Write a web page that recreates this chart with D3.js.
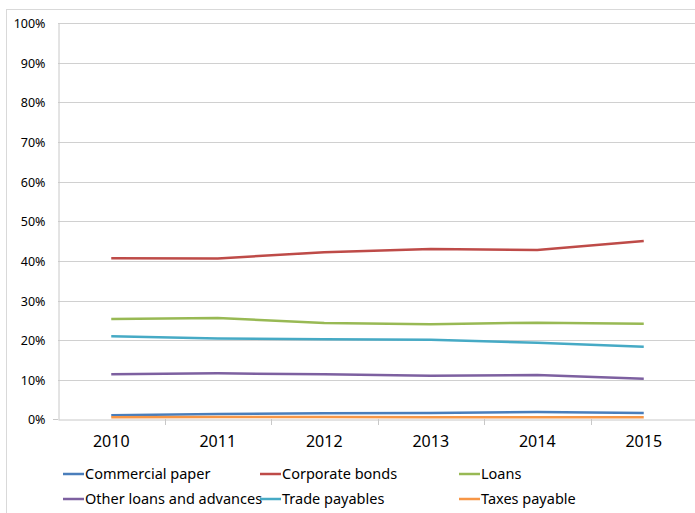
<!DOCTYPE html>
<html>
<head>
<meta charset="utf-8">
<script src="https://cdn.jsdelivr.net/npm/d3@7"></script>
<style>
  body { margin: 0; background: #fff; }
  text { font-family: "Noto Sans", "Open Sans", sans-serif; fill: #000; }
</style>
</head>
<body>
<div id="chart"></div>
<script>
// data
var years = ["2010", "2011", "2012", "2013", "2014", "2015"];
var yTicks = [0, 0.1, 0.2, 0.3, 0.4, 0.5, 0.6, 0.7, 0.8, 0.9, 1.0];

var seriesNames = ["Commercial paper", "Corporate bonds", "Loans",
                   "Other loans and advances", "Trade payables", "Taxes payable"];
var seriesColors = ["#4a7ebb", "#be4b48", "#98b954", "#7d60a0", "#46aac5", "#f79646"];

var commercialPaper = [0.010, 0.0135, 0.015, 0.016, 0.0185, 0.016];
var corporateBonds = [0.407, 0.406, 0.422, 0.430, 0.4275, 0.450];
var loans = [0.2535, 0.256, 0.243, 0.240, 0.244, 0.241];
var otherLoans = [0.114, 0.116, 0.114, 0.110, 0.112, 0.1025];
var tradePayables = [0.210, 0.204, 0.202, 0.201, 0.193, 0.183];
var taxesPayable = [0.005, 0.006, 0.006, 0.005, 0.005, 0.005];

var seriesValues = [commercialPaper, corporateBonds, loans, otherLoans, tradePayables, taxesPayable];

var width = 695, height = 513;

var svg = d3.select("#chart")
    .append("svg")
    .attr("width", width)
    .attr("height", height);

// outer chart frame
svg.append("rect")
    .attr("x", 6.5)
    .attr("y", 9.5)
    .attr("width", 700)
    .attr("height", 520)
    .style("fill", "none")
    .style("stroke", "#d9d9d9");

var x = d3.scaleBand()
    .domain(years)
    .range([58, 697]);

var y = d3.scaleLinear()
    .domain([0, 1])
    .range([419.3, 23.3]);

// gridlines
svg.append("g")
  .selectAll("line")
    .data(yTicks.slice(1))
  .enter().append("line")
    .attr("x1", 58)
    .attr("x2", 697)
    .attr("y1", function(d) { return Math.round(y(d)) + 0.5; })
    .attr("y2", function(d) { return Math.round(y(d)) + 0.5; })
    .style("stroke", "#d0d0d0")
    .style("stroke-width", 1);

// y axis
var yAxis = d3.axisLeft(y)
    .tickValues(yTicks)
    .tickFormat(d3.format(".0%"))
    .tickSize(0)
    .tickPadding(13);

var gy = svg.append("g")
    .attr("transform", "translate(58.5,0)")
    .call(yAxis);
gy.select(".domain").style("stroke", "#c8c8c8");
gy.selectAll("text").style("font-size", "12.5px");
gy.selectAll(".tick").attr("transform", function(d) {
  return "translate(0," + (Math.round(y(d)) + 0.5) + ")";
});

// x axis
var gx = svg.append("g")
    .attr("transform", "translate(0,419.5)")
    .call(d3.axisBottom(x).tickSize(0).tickPadding(16));
gx.select(".domain").style("stroke", "#c8c8c8");
gx.selectAll("text").style("font-size", "16px");

// small stub left of the axis at 0%
svg.append("line")
    .attr("x1", 53)
    .attr("x2", 58)
    .attr("y1", 419.5)
    .attr("y2", 419.5)
    .style("stroke", "#c8c8c8");

// tick marks between categories
svg.append("g")
  .selectAll("line")
    .data(years)
  .enter().append("line")
    .attr("x1", function(d) { return Math.round(x(d) + x.bandwidth()) + 0.5; })
    .attr("x2", function(d) { return Math.round(x(d) + x.bandwidth()) + 0.5; })
    .attr("y1", 419)
    .attr("y2", 425)
    .style("stroke", "#c8c8c8");

// lines
var line = d3.line()
    .x(function(d, i) { return x(years[i]) + x.bandwidth() / 2; })
    .y(function(d) { return y(d); });

svg.append("g")
  .selectAll("path")
    .data(seriesValues)
  .enter().append("path")
    .attr("d", function(d) { return line(d); })
    .style("fill", "none")
    .style("stroke", function(d, i) { return seriesColors[i]; })
    .style("stroke-width", 2.5);

// legend
var legendX = [63, 260, 459];
var legendY = [474, 499];
var legend = svg.append("g")
  .selectAll("g")
    .data(seriesNames)
  .enter().append("g")
    .attr("transform", function(d, i) {
      return "translate(" + legendX[i % 3] + "," + legendY[Math.floor(i / 3)] + ")";
    });

legend.append("line")
    .attr("x1", 0)
    .attr("x2", 21)
    .attr("y1", 0)
    .attr("y2", 0)
    .style("stroke", function(d, i) { return seriesColors[i]; })
    .style("stroke-width", 2.5);

legend.append("text")
    .attr("x", 22)
    .attr("y", 0)
    .attr("dy", "0.35em")
    .style("font-size", "14.5px")
    .text(function(d) { return d; });
</script>
</body>
</html>
